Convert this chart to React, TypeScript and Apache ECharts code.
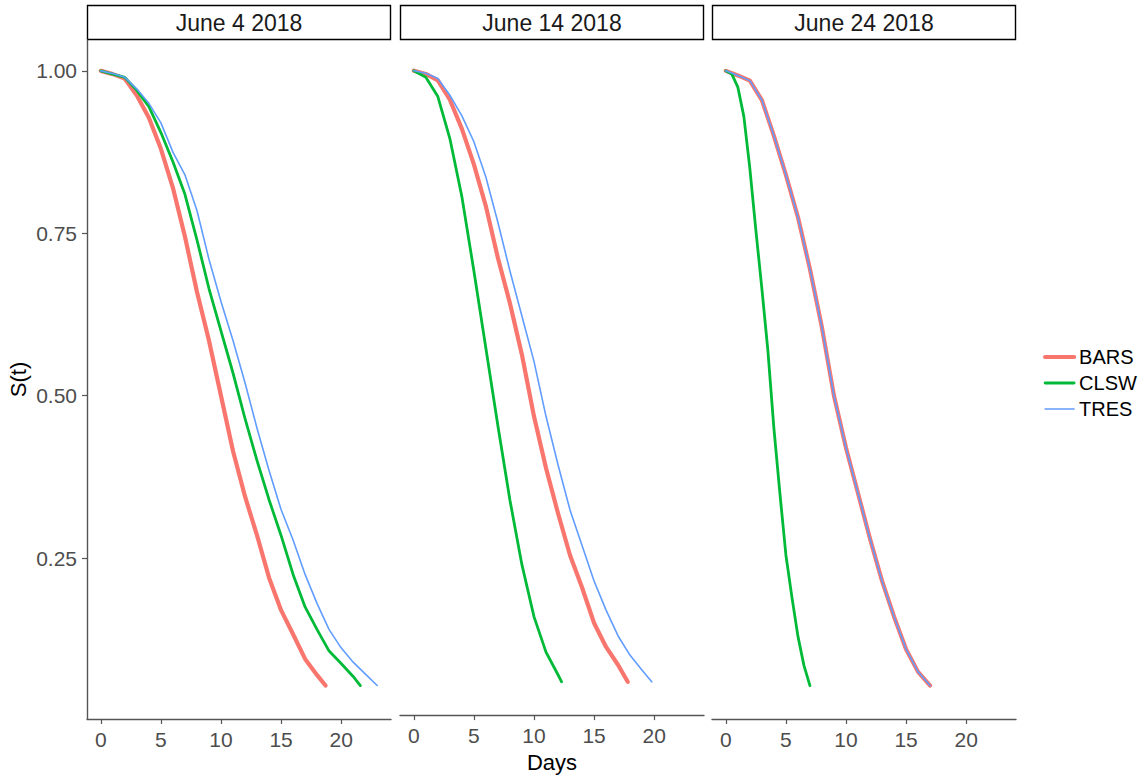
import React, { useEffect, useRef } from "react";
import * as echarts from "echarts";

// Facet labels
const panels = ["June 4 2018", "June 14 2018", "June 24 2018"];
const groups = ["BARS", "CLSW", "TRES"];
const groupColors = ["#F8766D", "#00BA38", "#619CFF"];
const groupWidths = [4.2, 2.8, 1.6];

const xTicks = [0, 5, 10, 15, 20];
const yTicks = [0.25, 0.5, 0.75, 1.0];

// June 4 2018
const barsJun4 = [[0,1],[1,0.995],[2,0.988],[3,0.962],[4,0.928],[5,0.88],[6,0.82],[7,0.745],[8,0.66],[9,0.585],[10,0.5],[11,0.415],[12,0.345],[13,0.285],[14,0.22],[15,0.17],[16,0.133],[17,0.095],[18,0.07],[18.7,0.054]];
const clswJun4 = [[0,1],[1,0.995],[2,0.99],[3,0.97],[4,0.945],[5,0.905],[6,0.86],[7,0.81],[8,0.74],[9,0.665],[10,0.6],[11,0.535],[12,0.465],[13,0.4],[14,0.34],[15,0.285],[16,0.225],[17,0.175],[18,0.14],[19,0.107],[20,0.088],[21,0.068],[21.6,0.054]];
const tresJun4 = [[0,1],[1,0.996],[2,0.99],[3,0.972],[4,0.95],[5,0.92],[6,0.875],[7,0.84],[8,0.785],[9,0.71],[10,0.645],[11,0.585],[12,0.52],[13,0.45],[14,0.385],[15,0.325],[16,0.278],[17,0.225],[18,0.18],[19,0.14],[20,0.112],[21,0.09],[22,0.072],[23,0.054]];

// June 14 2018
const barsJun14 = [[0,1],[1,0.995],[2,0.985],[3,0.955],[4,0.91],[5,0.855],[6,0.79],[7,0.71],[8,0.64],[9,0.56],[10,0.465],[11,0.385],[12,0.315],[13,0.25],[14,0.2],[15,0.145],[16,0.108],[17,0.08],[17.8,0.054]];
const clswJun14 = [[0,1],[1,0.99],[2,0.96],[3,0.895],[4,0.805],[5,0.69],[6,0.57],[7,0.45],[8,0.335],[9,0.235],[10,0.155],[11,0.1],[12,0.065],[12.3,0.054]];
const tresJun14 = [[0,1],[1,0.996],[2,0.988],[3,0.962],[4,0.93],[5,0.89],[6,0.835],[7,0.765],[8,0.69],[9,0.62],[10,0.55],[11,0.465],[12,0.39],[13,0.32],[14,0.265],[15,0.21],[16,0.165],[17,0.125],[18,0.095],[19,0.072],[19.8,0.054]];

// June 24 2018
const barsJun24 = [[0,1],[1,0.993],[2,0.985],[3,0.955],[4,0.9],[5,0.84],[6,0.775],[7,0.695],[8,0.605],[9,0.5],[10,0.42],[11,0.35],[12,0.28],[13,0.215],[14,0.16],[15,0.11],[16,0.075],[17,0.054]];
const clswJun24 = [[0,1],[0.5,0.995],[1,0.975],[1.5,0.93],[2,0.85],[2.5,0.755],[3,0.665],[3.5,0.57],[4,0.45],[4.5,0.35],[5,0.255],[5.5,0.19],[6,0.13],[6.5,0.085],[7,0.054]];
const tresJun24 = [[0,1],[1,0.993],[2,0.985],[3,0.955],[4,0.9],[5,0.84],[6,0.775],[7,0.695],[8,0.605],[9,0.5],[10,0.42],[11,0.35],[12,0.28],[13,0.215],[14,0.16],[15,0.11],[16,0.075],[17,0.054]];

const panelData = [
  [barsJun4, clswJun4, tresJun4],
  [barsJun14, clswJun14, tresJun14],
  [barsJun24, clswJun24, tresJun24],
];

export default function App() {
  const ref = useRef<HTMLDivElement>(null);

  useEffect(() => {
    document.body.style.margin = "0";
    if (!ref.current) return;
    const chart = echarts.init(ref.current, undefined, { renderer: "svg" });

    const gridLefts = [87, 400, 712];
    const gridWidth = 304;
    const gridTop = 40;
    const gridHeight = 679;
    const font = "'Liberation Sans', Arial, sans-serif";
    const axisColor = "#555555";
    const labelColor = "#4D4D4D";

    const grids = gridLefts.map((l) => ({ left: l, top: gridTop, width: gridWidth, height: gridHeight, containLabel: false }));

    const xAxes = gridLefts.map((_, i) => ({
      type: "value",
      gridIndex: i,
      min: -1.15,
      max: 24.15,
      name: i === 1 ? "Days" : "",
      nameLocation: "middle",
      nameGap: 33,
      nameTextStyle: { fontFamily: font, fontSize: 22, color: "#000" },
      axisLine: { show: true, onZero: false, lineStyle: { color: axisColor, width: 1.4 } },
      axisTick: { show: true, length: 5, customValues: xTicks, lineStyle: { color: axisColor, width: 1.2 } },
      axisLabel: { show: true, customValues: xTicks, margin: 10, fontFamily: font, fontSize: 21, color: labelColor },
      splitLine: { show: false },
    }));

    const yAxes = gridLefts.map((_, i) => ({
      type: "value",
      gridIndex: i,
      min: 0.0025,
      max: 1.0475,
      name: i === 0 ? "S(t)" : "",
      nameLocation: "middle",
      nameGap: 58,
      nameRotate: 90,
      nameTextStyle: { fontFamily: font, fontSize: 22, color: "#000" },
      axisLine: { show: i === 0, onZero: false, lineStyle: { color: axisColor, width: 1.4 } },
      axisTick: { show: i === 0, length: 5, customValues: yTicks, lineStyle: { color: axisColor, width: 1.2 } },
      axisLabel: {
        show: i === 0,
        customValues: yTicks,
        margin: 10,
        fontFamily: font,
        fontSize: 21,
        color: labelColor,
        formatter: (v: number) => v.toFixed(2),
      },
      splitLine: { show: false },
    }));

    const series: any[] = [];
    panelData.forEach((sets, p) => {
      sets.forEach((d, g) => {
        series.push({
          type: "line",
          name: groups[g],
          xAxisIndex: p,
          yAxisIndex: p,
          data: d,
          symbol: "none",
          smooth: false,
          z: 2 + g,
          lineStyle: { color: groupColors[g], width: groupWidths[g], cap: "round", join: "round" },
          itemStyle: { color: groupColors[g] },
        });
      });
    });

    const graphics: any[] = [];
    gridLefts.forEach((l, i) => {
      graphics.push({
        type: "rect",
        shape: { x: l + 0.5, y: 5.5, width: gridWidth - 1, height: 34 },
        style: { fill: "#ffffff", stroke: "#000000", lineWidth: 1.4 },
        silent: true,
      });
      graphics.push({
        type: "text",
        x: l + gridWidth / 2,
        y: 23,
        style: {
          text: panels[i],
          fill: "#1A1A1A",
          font: `23px ${font}`,
          textAlign: "center",
          textVerticalAlign: "middle",
        },
        silent: true,
      });
    });

    chart.setOption({
      animation: false,
      backgroundColor: "#ffffff",
      grid: grids,
      xAxis: xAxes,
      yAxis: yAxes,
      series,
      graphic: graphics,
      legend: {
        data: groups,
        orient: "vertical",
        left: 1038,
        top: 342,
        itemWidth: 29,
        itemHeight: 14,
        itemGap: 6,
        itemStyle: { opacity: 0 },
        lineStyle: { width: "inherit" },
        textStyle: { fontFamily: font, fontSize: 20, color: "#000" },
      },
    });

    return () => chart.dispose();
  }, []);

  return <div ref={ref} style={{ width: 1147, height: 778 }} />;
}
